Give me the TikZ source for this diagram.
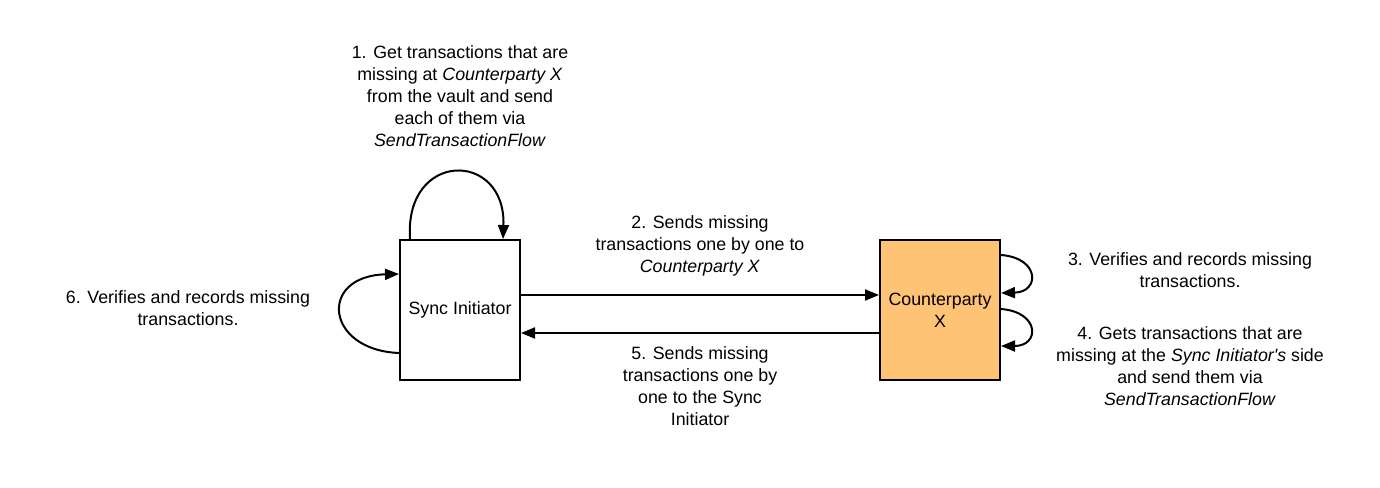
\documentclass[tikz,border=0pt]{standalone}
\usepackage{fontspec}
\setmainfont{Liberation Sans}
\usetikzlibrary{arrows.meta}
\definecolor{cporange}{HTML}{FFC375}
\tikzset{
  box/.style={draw=black, line width=2pt, minimum width=120pt, minimum height=140pt, inner sep=0pt, font=\fontsize{17.8}{22}\selectfont, align=center},
  lbl/.style={align=center, font=\fontsize{17.8}{22}\selectfont, inner sep=0pt},
  conn/.style={draw=black, line width=2pt, -{Triangle[length=14pt,width=11pt]}}
}
\begin{document}
\begin{tikzpicture}[x=1pt,y=-1pt]
\useasboundingbox (0,0) rectangle (1380,487);
\node[box] (si) at (460,310) {Sync Initiator};
\node[box, fill=cporange] (cp) at (940,310) {Counterparty\\X};

\node[lbl] (l1) at (460,96) {1. Get transactions that are\\missing at \textit{Counterparty X}\\from the vault and send\\each of them via\\\textit{SendTransactionFlow}};
\node[lbl] (l2) at (700,246) {2. Sends missing\\transactions one by one to\\\textit{Counterparty X}};
\node[lbl] (l5) at (700,386) {5. Sends missing\\transactions one by\\one to the Sync\\Initiator};
\node[lbl] (l6) at (188,308) {6. Verifies and records missing\\transactions.};
\node[lbl] (l3) at (1190,270) {3. Verifies and records missing\\transactions.};
\node[lbl] (l4) at (1190,366) {4. Gets transactions that are\\missing at the \textit{Sync Initiator\textquotesingle s} side\\and send them via\\\textit{SendTransactionFlow}};

\draw[conn] ([xshift=11pt]si.north west) .. controls (404,150) and (506,150) .. ([xshift=-18pt]si.north east);
\draw[conn] ([yshift=28pt]si.south west) .. controls (325,350) and (318,276) .. ([yshift=107pt]si.south west);
\draw[conn] ([yshift=-16pt]cp.north east) .. controls (1040,258) and (1040,292) .. ([yshift=-54pt]cp.north east);
\draw[conn] ([yshift=-70pt]cp.north east) .. controls (1040,312) and (1040,346) .. ([yshift=-107pt]cp.north east);
\draw[conn] (si.east |- 0,295) -- (cp.west |- 0,295);
\draw[conn] (cp.west |- 0,333) -- (si.east |- 0,333);
\end{tikzpicture}
\end{document}
